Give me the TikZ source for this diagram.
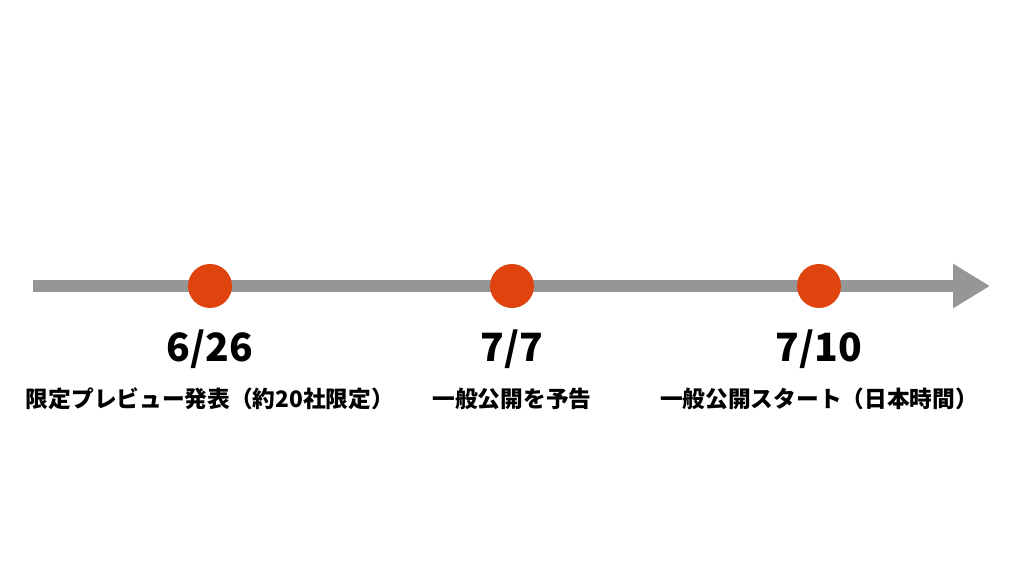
\documentclass[tikz,border=0pt]{standalone}
\usepackage{fontspec}
\usepackage{xcolor}
\usetikzlibrary{arrows.meta,positioning,calc}
\newfontfamily\cjk{Noto Sans CJK JP}
\definecolor{linegray}{RGB}{150,150,150}
\definecolor{dotred}{RGB}{224,68,14}

\begin{document}
\begin{tikzpicture}[
  x=1pt, y=1pt,
  timeline/.style={line width=12pt, draw=linegray, -{Triangle[length=37pt, width=42pt]}},
  dot/.style={circle, fill=dotred, minimum size=44pt, inner sep=0pt},
  datelbl/.style={anchor=base, inner sep=0pt, font=\cjk\bfseries\fontsize{39}{41}\selectfont},
  eventlbl/.style={anchor=base, inner sep=0pt, font=\cjk\bfseries\fontsize{22.7}{25}\selectfont}
]
\useasboundingbox[fill=white] (0,0) rectangle (1024,572);
\coordinate (start) at (33,286);
\coordinate (end) at (990,286);
\draw[timeline] (start) -- (end);

\node[dot] (d626) at (210,286) {};
\node[dot] (d77) at (512,286) {};
\node[dot] (d710) at (819,286) {};

\node[datelbl] (t626) at ([yshift=-76pt]d626) {6/26};
\node[datelbl] (t77) at ([yshift=-76pt]d77) {7/7};
\node[datelbl] (t710) at ([yshift=-76pt]d710) {7/10};

\node[eventlbl] (e626) at ([yshift=-122pt]d626) {限定プレビュー発表（約20社限定）};
\node[eventlbl] (e77) at ([yshift=-122pt]d77) {一般公開を予告};
\node[eventlbl] (e710) at ([yshift=-122pt]d710) {一般公開スタート（日本時間）};
\end{tikzpicture}
\end{document}
